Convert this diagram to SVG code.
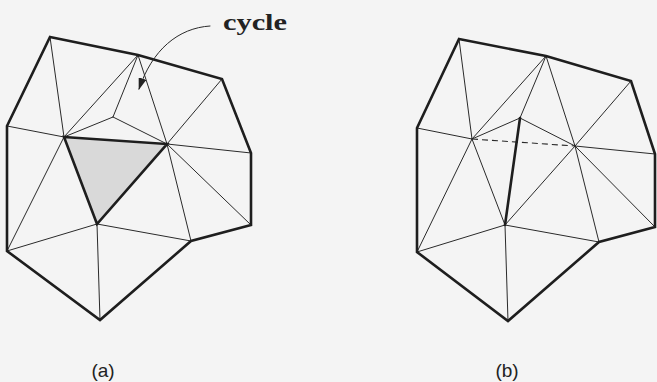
<svg xmlns="http://www.w3.org/2000/svg" width="657" height="382" viewBox="0 0 657 382">
<style>
.thin{stroke:#2a2a2a;stroke-width:1;fill:none;stroke-linecap:round}
.thick{stroke:#1e1e1e;stroke-width:2.6;fill:none;stroke-linejoin:miter;stroke-linecap:round}
.dash{stroke:#2a2a2a;stroke-width:1.1;fill:none;stroke-dasharray:6 4}
.cap{font-family:"Liberation Sans",Arial,sans-serif;font-size:19px;fill:#222}
.lbl{font-family:"Liberation Serif","Times New Roman",serif;font-size:24px;font-weight:bold;fill:#222}
</style>
<defs>
<marker id="ah" viewBox="0 0 12 8" refX="11" refY="4" markerWidth="12" markerHeight="8" markerUnits="userSpaceOnUse" orient="auto">
<path d="M0,0 L12,4 L0,8 Z" fill="#222"/>
</marker>
</defs>
<rect width="657" height="382" fill="#f4f4f4"/>

<g id="fig-a">
<polygon points="64,137 167,144 97,224" fill="#d9d9d9"/>
<g class="thin">
<line x1="50" y1="37" x2="64" y2="137"/>
<line x1="7" y1="126" x2="64" y2="137"/>
<line x1="7" y1="251" x2="64" y2="137"/>
<line x1="7" y1="251" x2="97" y2="224"/>
<line x1="100" y1="320" x2="97" y2="224"/>
<line x1="191" y1="241" x2="97" y2="224"/>
<line x1="191" y1="241" x2="167" y2="144"/>
<line x1="251" y1="225" x2="167" y2="144"/>
<line x1="251" y1="153" x2="167" y2="144"/>
<line x1="222" y1="79" x2="167" y2="144"/>
<line x1="138" y1="55" x2="167" y2="144"/>
<line x1="138" y1="55" x2="64" y2="137"/>
<line x1="138" y1="55" x2="113" y2="117"/>
<line x1="64" y1="137" x2="113" y2="117"/>
<line x1="167" y1="144" x2="113" y2="117"/>
</g>
<polygon class="thick" points="50,37 138,55 222,79 251,153 251,225 191,241 100,320 7,251 7,126"/>
<polygon class="thick" points="64,137 167,144 97,224"/>
</g>

<g id="cycle-label">
<text class="lbl" x="223" y="30" textLength="64" lengthAdjust="spacingAndGlyphs">cycle</text>
</g>

<g id="connectors">
<path d="M210,26 C178,28 152,50 139,89" class="thin" stroke-width="1.1" marker-end="url(#ah)"/>
</g>

<g id="fig-b">
<g class="thin">
<line x1="459" y1="39" x2="472" y2="139"/>
<line x1="417" y1="128" x2="472" y2="139"/>
<line x1="417" y1="252" x2="472" y2="139"/>
<line x1="417" y1="252" x2="505" y2="225"/>
<line x1="508" y1="321" x2="505" y2="225"/>
<line x1="599" y1="242" x2="505" y2="225"/>
<line x1="599" y1="242" x2="575" y2="146"/>
<line x1="655" y1="227" x2="575" y2="146"/>
<line x1="655" y1="154" x2="575" y2="146"/>
<line x1="631" y1="81" x2="575" y2="146"/>
<line x1="546" y1="56" x2="575" y2="146"/>
<line x1="546" y1="56" x2="472" y2="139"/>
<line x1="546" y1="56" x2="520" y2="118"/>
<line x1="472" y1="139" x2="520" y2="118"/>
<line x1="575" y1="146" x2="520" y2="118"/>
<line x1="472" y1="139" x2="505" y2="225"/>
<line x1="575" y1="146" x2="505" y2="225"/>
</g>
<line class="dash" x1="472" y1="139" x2="575" y2="146"/>
<line class="thick" x1="520" y1="118" x2="505" y2="225"/>
<polygon class="thick" points="459,39 546,56 631,81 655,154 655,227 599,242 508,321 417,252 417,128"/>
</g>

<g id="captions">
<text class="cap" x="103" y="377" text-anchor="middle">(a)</text>
<text class="cap" x="507" y="377" text-anchor="middle">(b)</text>
</g>
</svg>
